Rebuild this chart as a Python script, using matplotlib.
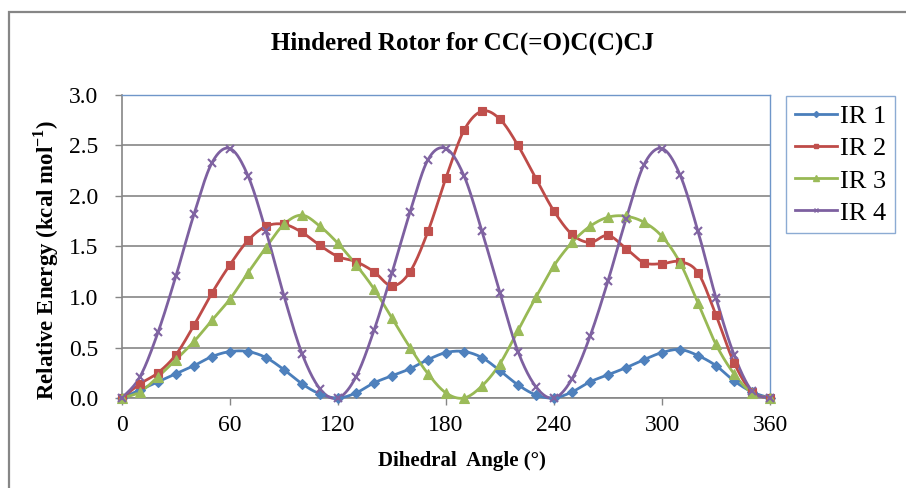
import numpy as np
import matplotlib
matplotlib.use("Agg")
import matplotlib.pyplot as plt
from matplotlib.patches import Rectangle
from matplotlib.lines import Line2D

angles = list(range(0, 361, 10))
ir1 = [0.00, 0.08, 0.16, 0.24, 0.32, 0.41, 0.46, 0.46, 0.40, 0.28, 0.14, 0.04,
       0.00, 0.05, 0.15, 0.22, 0.29, 0.38, 0.45, 0.46, 0.40, 0.27, 0.13, 0.03,
       0.00, 0.06, 0.16, 0.23, 0.30, 0.38, 0.45, 0.48, 0.42, 0.32, 0.17, 0.06, 0.00]
ir2 = [0.00, 0.14, 0.25, 0.43, 0.72, 1.04, 1.32, 1.56, 1.70, 1.72, 1.64, 1.51,
       1.40, 1.35, 1.25, 1.11, 1.25, 1.65, 2.18, 2.65, 2.84, 2.76, 2.50, 2.17,
       1.85, 1.62, 1.54, 1.61, 1.48, 1.34, 1.33, 1.35, 1.24, 0.82, 0.35, 0.06, 0.00]
ir3 = [0.00, 0.06, 0.21, 0.38, 0.56, 0.77, 0.98, 1.24, 1.49, 1.72, 1.81, 1.70,
       1.53, 1.32, 1.08, 0.79, 0.50, 0.24, 0.05, 0.00, 0.12, 0.34, 0.67, 1.00,
       1.31, 1.54, 1.70, 1.79, 1.80, 1.74, 1.60, 1.34, 0.94, 0.53, 0.24, 0.05, 0.00]
ir4 = [0.00, 0.21, 0.65, 1.21, 1.82, 2.33, 2.47, 2.20, 1.65, 1.01, 0.44, 0.09,
       0.00, 0.21, 0.67, 1.24, 1.84, 2.36, 2.47, 2.20, 1.65, 1.04, 0.46, 0.11,
       0.00, 0.19, 0.61, 1.16, 1.77, 2.31, 2.47, 2.21, 1.65, 0.99, 0.43, 0.07, 0.00]
series_names = ["IR 1", "IR 2", "IR 3", "IR 4"]
x_ticks = [0, 60, 120, 180, 240, 300, 360]
y_ticks = [0.0, 0.5, 1.0, 1.5, 2.0, 2.5, 3.0]
title = "Hindered Rotor for CC(=O)C(C)CJ"
xlabel = "Dihedral  Angle (°)"
ylabel = r"Relative Energy (kcal mol$^{\mathbf{-1}}$)"

line_colors = ["#4A7EBB", "#BE4B48", "#98B954", "#7D60A0"]
fill_colors = ["#4F81BD", "#C0504D", "#9BBB59", "#8064A2"]
markers = ["D", "s", "^", "x"]
msizes = [5, 6, 6.5, 6]


def smooth(xs, ys, n=20):
    """Excel-style smoothed line (Catmull-Rom Bezier) through the points."""
    P = np.column_stack([xs, ys]).astype(float)
    out = []
    m = len(P)
    t = np.linspace(0, 1, n)[:, None]
    for i in range(m - 1):
        p0 = P[max(i - 1, 0)]
        p1 = P[i]
        p2 = P[i + 1]
        p3 = P[min(i + 2, m - 1)]
        c1 = p1 + (p2 - p0) / 6.0
        c2 = p2 - (p3 - p1) / 6.0
        seg = ((1 - t) ** 3) * p1 + 3 * ((1 - t) ** 2) * t * c1 + 3 * (1 - t) * t ** 2 * c2 + t ** 3 * p2
        out.append(seg if i == 0 else seg[1:])
    S = np.vstack(out)
    return S[:, 0], S[:, 1]


plt.rcParams['font.family'] = ['Liberation Serif', 'DejaVu Serif']
plt.rcParams['mathtext.fontset'] = 'custom'
plt.rcParams['mathtext.rm'] = 'Liberation Serif'
plt.rcParams['mathtext.bf'] = 'Liberation Serif:bold'

W, H = 906, 488
fig = plt.figure(figsize=(W / 100, H / 100), dpi=100)
fig.patch.set_facecolor("white")

# outer chart border
fig.patches.append(Rectangle((9 / W, -0.2), 1.2, 1 - 12 / H + 0.2, transform=fig.transFigure,
                             fill=False, edgecolor="#868686", linewidth=1.6, zorder=0))

ax = fig.add_axes([122 / W, 1 - 398 / H, (770 - 122) / W, (398 - 95) / H])
ax.set_xlim(0, 360)
ax.set_ylim(0, 3.0)

handles = []
for ys, name, lc, fc, mk, ms in zip([ir1, ir2, ir3, ir4], series_names, line_colors, fill_colors, markers, msizes):
    sx, sy = smooth(angles, ys)
    ax.plot(sx, sy, color=lc, lw=2.0, solid_capstyle="round", clip_on=False, zorder=3)
    if mk == "x":
        ax.plot(angles, ys, linestyle="none", marker=mk, ms=ms, mew=1.5, color=fc, clip_on=False, zorder=4)
    else:
        ax.plot(angles, ys, linestyle="none", marker=mk, ms=ms, mew=0.8, mfc=fc, mec=fc, clip_on=False, zorder=4)
    handles.append(Line2D([0], [0], color=lc, lw=2.0, marker=mk, ms=ms * 0.6,
                          mfc=fc, mec=fc, mew=1.0))

ax.set_xticks(x_ticks)
ax.set_xticklabels([str(v) for v in x_ticks])
ax.set_yticks(y_ticks)
ax.set_yticklabels([f"{v:.1f}" for v in y_ticks])
ax.tick_params(axis="both", direction="out", length=5, width=1, color="#868686", labelsize=17)
ax.tick_params(axis="x", pad=7)
ax.tick_params(axis="y", pad=12)
ax.grid(axis="y", color="#868686", lw=1.2)
ax.set_axisbelow(True)
for s in ["left", "bottom"]:
    ax.spines[s].set_color("#868686")
    ax.spines[s].set_linewidth(1.2)
for s in ["top", "right"]:
    ax.spines[s].set_color("#6F96C9")
    ax.spines[s].set_linewidth(1.0)

fig.text(462 / W, 1 - 50 / H, title, ha="center", va="baseline", fontsize=18, fontweight="bold")
fig.text(462 / W, 1 - 466 / H, xlabel, ha="center", va="baseline", fontsize=15, fontweight="bold")
fig.text(46 / W, 1 - 260 / H, ylabel, ha="center", va="center", rotation=90, fontsize=16.5, fontweight="bold")

leg = fig.legend(handles, series_names, loc="upper left", bbox_to_anchor=(786 / W, 1 - 96 / H),
                 fontsize=19, frameon=True, fancybox=False, handlelength=1.6, handletextpad=0.1,
                 labelspacing=0.33, borderpad=0.33, borderaxespad=0)
leg.get_frame().set_edgecolor("#6F96C9")
leg.get_frame().set_linewidth(1.0)

fig.savefig("out.png", dpi=100, facecolor="white")
